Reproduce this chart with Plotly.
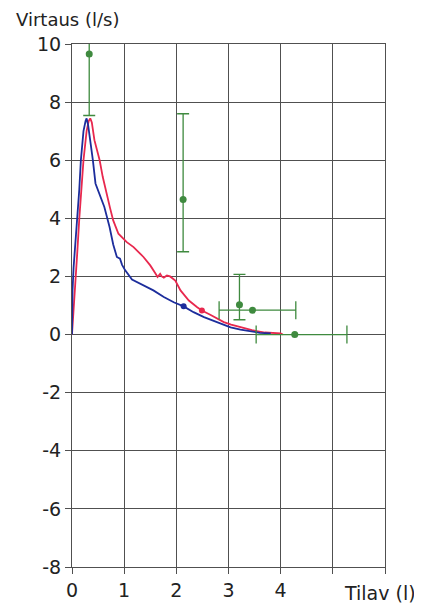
import plotly.graph_objects as go

# Measured curves (volume l, flow l/s)
red_x = [0, 0.02, 0.04, 0.07, 0.1, 0.14, 0.18, 0.22, 0.28, 0.32, 0.35, 0.38, 0.43, 0.53, 0.59, 0.67, 0.73, 0.79, 0.85, 0.89, 1.05, 1.18, 1.37, 1.5, 1.6, 1.64, 1.69, 1.72, 1.76, 1.82, 1.88, 1.98, 2.08, 2.24, 2.4, 2.49, 2.65, 2.81, 2.91, 3.05, 3.23, 3.45, 3.7, 3.85, 4.0, 4.04]
red_y = [0, 0.5, 1.2, 2.0, 2.8, 4.0, 5.0, 6.0, 7.0, 7.35, 7.44, 7.3, 6.69, 6.0, 5.42, 4.75, 4.35, 3.93, 3.65, 3.47, 3.18, 3.01, 2.67, 2.38, 2.1, 1.98, 2.09, 2.0, 1.96, 2.03, 2.0, 1.86, 1.52, 1.17, 0.94, 0.83, 0.68, 0.54, 0.43, 0.34, 0.25, 0.15, 0.07, 0.05, 0.04, 0]

blue_x = [0, 0.01, 0.03, 0.06, 0.11, 0.14, 0.17, 0.22, 0.26, 0.28, 0.31, 0.36, 0.40, 0.45, 0.53, 0.62, 0.72, 0.79, 0.86, 0.92, 0.96, 1.02, 1.15, 1.37, 1.56, 1.76, 1.95, 2.14, 2.33, 2.53, 2.72, 2.85, 3.04, 3.23, 3.42, 3.6, 3.81]
blue_y = [0, 1.5, 2.3, 3.0, 4.05, 5.0, 6.0, 7.0, 7.35, 7.44, 7.2, 6.6, 6.0, 5.2, 4.85, 4.39, 3.7, 3.1, 2.67, 2.61, 2.4, 2.21, 1.89, 1.69, 1.52, 1.29, 1.11, 0.97, 0.77, 0.6, 0.46, 0.37, 0.25, 0.17, 0.11, 0.06, 0.04]

# Markers on curves
blue_mark_x = [2.14]
blue_mark_y = [0.97]
red_mark_x = [2.49]
red_mark_y = [0.83]

# Reference values with vertical ranges
refv_x = [0.33, 2.13, 3.21]
refv_y = [9.66, 4.65, 1.03]
refv_plus = [2.12, 2.95, 1.04]
refv_minus = [2.12, 1.8, 0.52]

# Reference values with horizontal ranges
refh_x = [3.46, 4.27]
refh_y = [0.84, 0.0]
refh_plus = [0.83, 1.0]
refh_minus = [0.64, 0.74]

x_ticks = [0, 1, 2, 3, 4, 5, 6]
x_ticktext = ["0", "1", "2", "3", "4", "", ""]
y_ticks = [-8, -6, -4, -2, 0, 2, 4, 6, 8, 10]
y_ticktext = ["-8", "-6", "-4", "-2", "0", "2", "4", "6", "8", "10"]

green = "#3f8a3f"
red = "#e8284e"
blue = "#1c2d9c"
font_family = "DejaVu Sans"

fig = go.Figure()

fig.add_trace(go.Scatter(x=red_x, y=red_y, mode="lines",
                         line=dict(color=red, width=1.8), showlegend=False))
fig.add_trace(go.Scatter(x=blue_x, y=blue_y, mode="lines",
                         line=dict(color=blue, width=1.8), showlegend=False))
fig.add_trace(go.Scatter(x=blue_mark_x, y=blue_mark_y, mode="markers",
                         marker=dict(color=blue, size=6), showlegend=False))
fig.add_trace(go.Scatter(x=red_mark_x, y=red_mark_y, mode="markers",
                         marker=dict(color=red, size=6), showlegend=False))

fig.add_trace(go.Scatter(
    x=refv_x, y=refv_y, mode="markers",
    marker=dict(color=green, size=7),
    error_y=dict(type="data", symmetric=False, array=refv_plus, arrayminus=refv_minus,
                 color=green, thickness=1.3, width=6),
    showlegend=False))
fig.add_trace(go.Scatter(
    x=refh_x, y=refh_y, mode="markers",
    marker=dict(color=green, size=7),
    error_x=dict(type="data", symmetric=False, array=refh_plus, arrayminus=refh_minus,
                 color=green, thickness=1.3, width=9),
    showlegend=False))

axis_common = dict(
    showgrid=True, gridcolor="#505050", gridwidth=1,
    showline=True, linecolor="#505050", linewidth=1, mirror=True,
    zeroline=False, ticks="outside", ticklen=6, tickcolor="#505050",
    tickfont=dict(family=font_family, size=19, color="#222222"),
)

# The page body adds an 8px offset; size the figure to compensate.
fig.update_layout(
    width=414, height=599,
    margin=dict(l=64, r=37, t=36, b=40, autoexpand=False),
    paper_bgcolor="white", plot_bgcolor="white",
    xaxis=dict(range=[0, 6], tickvals=x_ticks, ticktext=x_ticktext, automargin=False, **axis_common),
    yaxis=dict(range=[-8, 10], tickvals=y_ticks, ticktext=y_ticktext, automargin=False, **axis_common),
    annotations=[
        dict(text="Virtaus (l/s)", xref="paper", yref="paper", x=-0.185, y=1.046,
             xanchor="left", yanchor="middle", showarrow=False,
             font=dict(family=font_family, size=18, color="#222222")),
        dict(text="Tilav (l)", xref="paper", yref="paper", x=1.105, y=-0.05,
             xanchor="right", yanchor="middle", showarrow=False,
             font=dict(family=font_family, size=19, color="#222222")),
    ],
)

fig.write_html("out.html")
